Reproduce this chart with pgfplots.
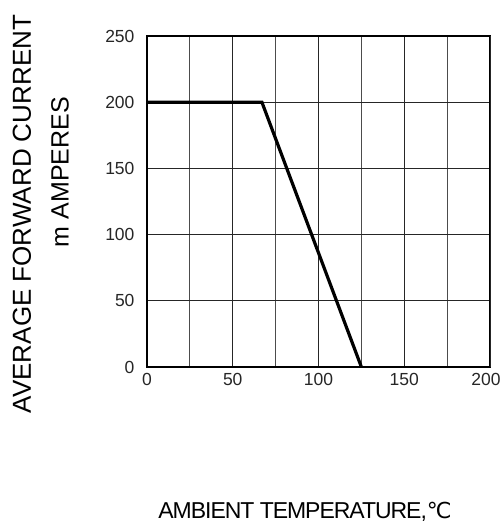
\documentclass[border=0pt]{standalone}
\usepackage{fontspec}
\setmainfont{Liberation Sans}
\newfontfamily\dejavu{DejaVu Sans}
\usepackage{pgfplots}
\pgfplotsset{compat=1.18}

\begin{document}
\begin{tikzpicture}
\useasboundingbox (-147pt,-157pt) rectangle (356pt,367pt);
\begin{axis}[
  at={(0,0)}, anchor=south west,
  scale only axis,
  width=343pt, height=331pt,
  xmin=0, xmax=200, ymin=0, ymax=250,
  xtick={0,50,...,150},
  extra x ticks={200},
  extra x tick style={xticklabel style={xshift=-4pt}},
  ytick={0,50,...,250},
  minor xtick={25,75,125,175},
  grid=both,
  major grid style={line width=0.9pt, black!85},
  minor grid style={line width=0.9pt, black!70},
  axis line style={line width=2pt},
  major tick length=0pt, minor tick length=0pt,
  /pgf/number format/assume math mode=true,
  tick label style={font=\fontsize{17.5}{20}\selectfont, text=black!85},
  yticklabel style={xshift=-9pt},
  xticklabel style={yshift=-3pt},
]
\addplot[line width=3.2pt, black] coordinates {
  (0, 200)
  (67, 200)
  (125, 0)
};
\end{axis}
\node[rotate=90, font=\fontsize{26}{28}\selectfont] at (-125pt,153pt) {AVERAGE FORWARD CURRENT};
\node[rotate=90, font=\fontsize{25}{28}\selectfont] at (-87pt,195pt) {m AMPERES};
\node[font=\fontsize{23}{26}\selectfont] at (158pt,-145pt)
  {\addfontfeatures{LetterSpace=-4.5}AMBIENT TEMPERATURE,{\dejavu\fontsize{22}{24}\selectfont ℃}};
\end{tikzpicture}
\end{document}
